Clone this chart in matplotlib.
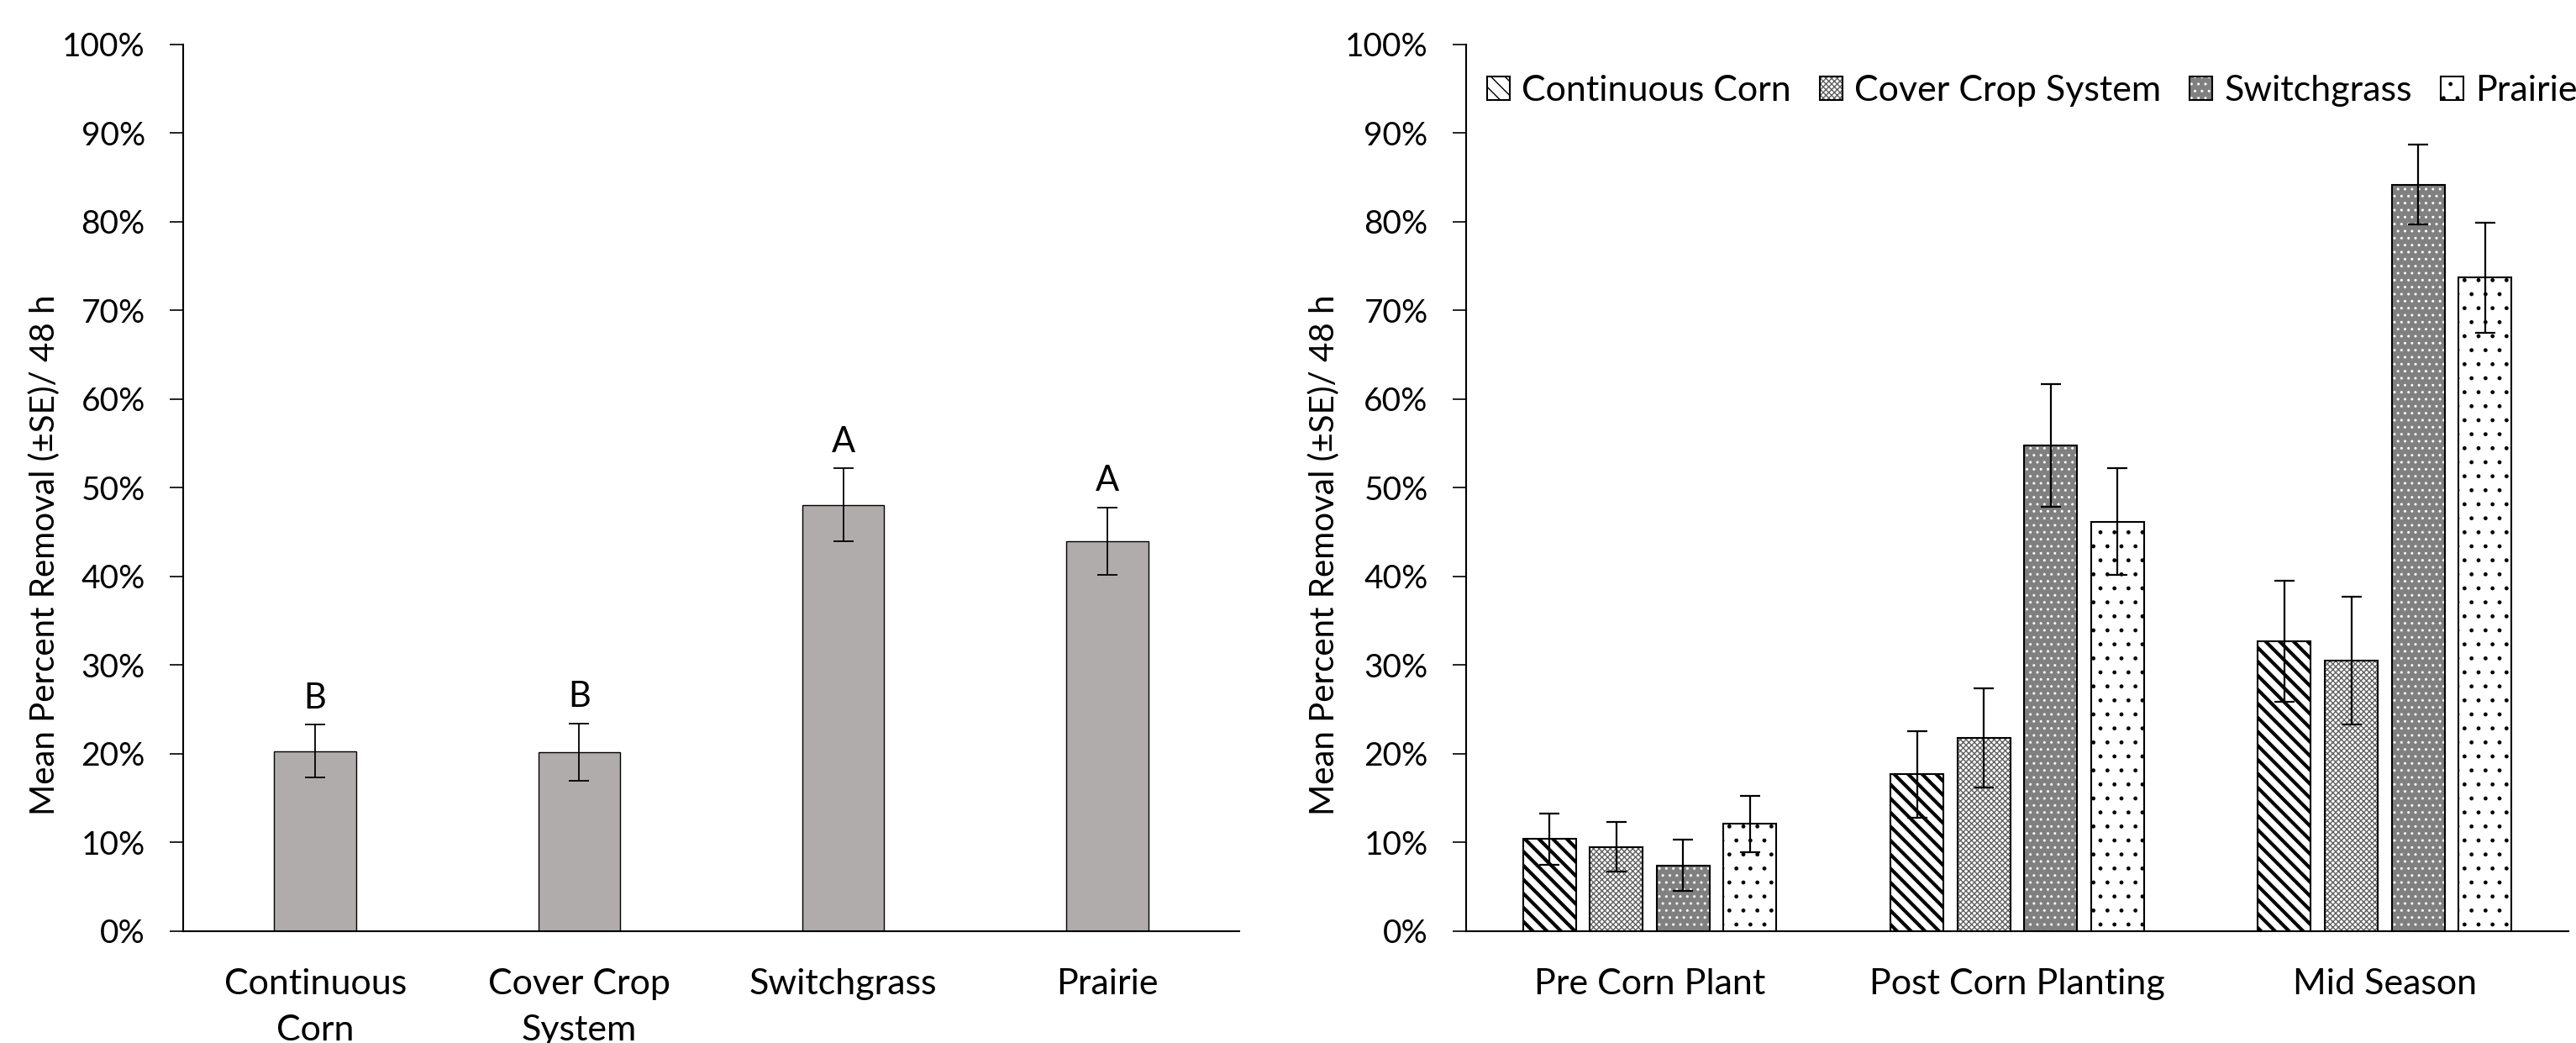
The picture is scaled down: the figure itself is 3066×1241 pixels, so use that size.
import matplotlib
matplotlib.use('Agg')
import matplotlib.pyplot as plt
import numpy as np

plt.rcParams['font.family'] = ['Lato', 'DejaVu Sans']

# ---------------- data ----------------
systems = ['Continuous Corn', 'Cover Crop System', 'Switchgrass', 'Prairie']
left_labels = ['Continuous\nCorn', 'Cover Crop\nSystem', 'Switchgrass', 'Prairie']
overall_mean = [20.3, 20.2, 48.1, 44.0]
overall_se = [3.0, 3.2, 4.1, 3.8]
letters = ['B', 'B', 'A', 'A']

periods = ['Pre Corn Plant', 'Post Corn Planting', 'Mid Season']
cc_mean = [10.4, 17.7, 32.7]
ccs_mean = [9.5, 21.8, 30.5]
sg_mean = [7.4, 54.8, 84.2]
pr_mean = [12.1, 46.2, 73.7]
cc_se = [2.9, 4.9, 6.8]
ccs_se = [2.8, 5.6, 7.2]
sg_se = [2.9, 6.9, 4.5]
pr_se = [3.2, 6.0, 6.2]

yticks = list(range(0, 101, 10))
ylabel = 'Mean Percent Removal (±SE)/ 48 h'

# ---------------- style ----------------
FS = 31
TICKFS = 28
YLFS = 29
fig = plt.figure(figsize=(30.66, 12.41), dpi=100)
ax1 = fig.add_axes([0.0711, 0.1072, 0.4100, 0.8501])
ax2 = fig.add_axes([0.5691, 0.1072, 0.4280, 0.8501])

def style_axis(ax):
    for s in ['top', 'right']:
        ax.spines[s].set_visible(False)
    for s in ['left', 'bottom']:
        ax.spines[s].set_linewidth(1.5)
    ax.set_ylim(0, 100)
    ax.set_yticks(yticks)
    ax.set_yticklabels([f'{v}%' for v in yticks])
    ax.tick_params(axis='y', direction='out', length=11.5, width=1.2,
                   pad=21, labelsize=TICKFS)
    ax.tick_params(axis='x', length=0, pad=32, labelsize=FS)
    ax.set_ylabel(ylabel, fontsize=YLFS)

# ---------------- left panel ----------------
x1 = np.arange(len(systems))
ax1.bar(x1, overall_mean, width=0.31, color='#AFACAB', edgecolor='black',
        linewidth=1.0, zorder=2)
ax1.errorbar(x1, overall_mean, yerr=overall_se, fmt='none', ecolor='black',
             elinewidth=1.3, capsize=8.6, capthick=1.3, zorder=3)
for xi, m, e, L in zip(x1, overall_mean, overall_se, letters):
    ax1.text(xi, m + e + 3.0, L, ha='center', va='center', fontsize=30)
ax1.set_xlim(-0.5, 3.5)
ax1.set_xticks(x1)
ax1.set_xticklabels(left_labels, linespacing=1.55)
style_axis(ax1)
ax1.yaxis.set_label_coords(-0.116, 0.424)

# ---------------- right panel ----------------
x2 = np.arange(len(periods))
pitch = 0.182
bw = 0.144
series = [
    (cc_mean, cc_se, 'white', 'black', '\\\\', 3.0),
    (ccs_mean, ccs_se, 'white', '#606060', 'xxxxx', 1.0),
    (sg_mean, sg_se, '#808080', 'white', '..', 1.0),
    (pr_mean, pr_se, 'white', 'black', '.', 1.0),
]
handles = []
for i, (m, e, face, hc, hatch, hlw) in enumerate(series):
    xs = x2 + (i - 1.5) * pitch
    plt.rcParams['hatch.linewidth'] = hlw
    fill = ax2.bar(xs, m, width=bw, color=face, edgecolor=hc, linewidth=0,
                   hatch=hatch, zorder=2)
    for p in fill:
        if hasattr(p, 'set_hatch_linewidth'):
            p.set_hatch_linewidth(hlw)
    edge = ax2.bar(xs, m, width=bw, fill=False, edgecolor='black',
                   linewidth=1.5, zorder=2.5)
    ax2.errorbar(xs, m, yerr=e, fmt='none', ecolor='black', elinewidth=1.6,
                 capsize=8.6, capthick=1.6, zorder=3)
    handles.append((fill[0], edge[0]))
ax2.set_xlim(-0.5, 2.5)
ax2.set_xticks(x2)
ax2.set_xticklabels(periods)
style_axis(ax2)
ax2.yaxis.set_label_coords(-0.114, 0.424)

leg = ax2.legend(handles, systems, loc='center left',
                 bbox_to_anchor=(0.019, 0.948), ncol=4, frameon=False,
                 fontsize=FS, handlelength=0.63, handleheight=0.63,
                 handletextpad=0.32, columnspacing=0.8, borderpad=0,
                 borderaxespad=0)
leg.set_clip_on(False)

fig.savefig('out.png', dpi=100)
